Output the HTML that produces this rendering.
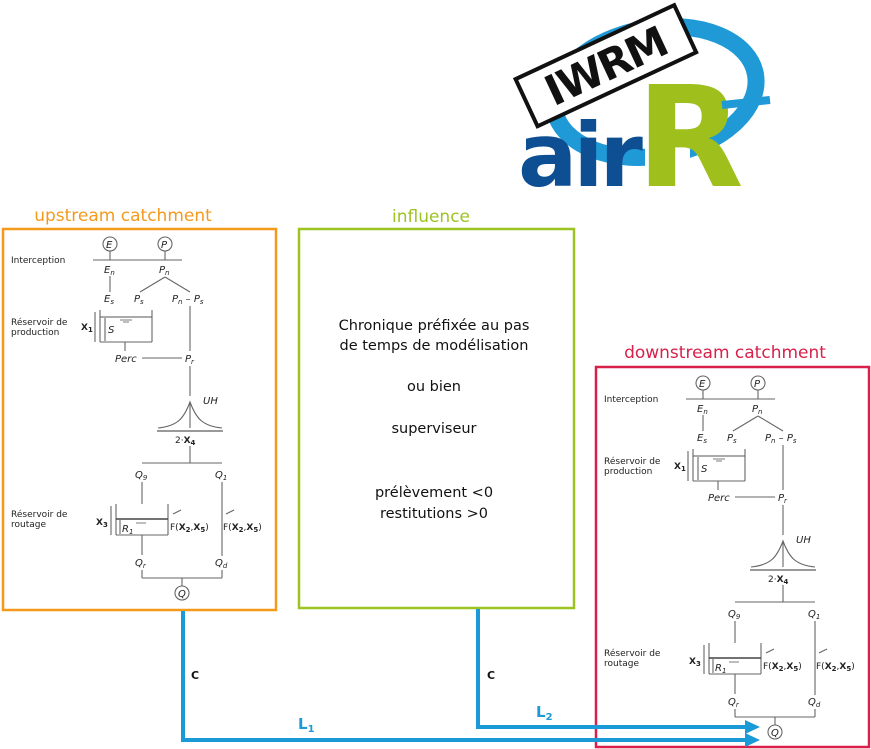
<!DOCTYPE html>
<html><head><meta charset="utf-8"><style>
html,body{margin:0;padding:0;background:#fff;}
svg{display:block;}
text{font-family:"DejaVu Sans","Liberation Sans",sans-serif;}
.it{font-style:italic;font-size:10px;fill:#222;}
.sm{font-size:9px;fill:#222;}
.b{font-weight:bold;}
</style></head><body>
<svg width="871" height="749" viewBox="0 0 871 749" xmlns="http://www.w3.org/2000/svg">
<defs>
<g id="gr">
 <g stroke="#666" stroke-width="1.1" fill="none">
  <line x1="93" y1="260" x2="182" y2="260"/>
  <line x1="110" y1="251" x2="110" y2="260"/>
  <line x1="165" y1="251" x2="165" y2="260"/>
  <line x1="165" y1="277" x2="140" y2="292"/>
  <line x1="165" y1="277" x2="190" y2="292"/>
  <line x1="110" y1="276" x2="110" y2="292"/>
  <line x1="100" y1="310" x2="100" y2="342"/>
  <line x1="152" y1="310" x2="152" y2="342"/>
  <line x1="100" y1="342" x2="152" y2="342"/>
  <line x1="100" y1="317" x2="152" y2="317" stroke="#555"/>
  <line x1="95" y1="312" x2="95" y2="342"/>
  <line x1="105" y1="318" x2="105" y2="341"/>
  <line x1="125" y1="342" x2="125" y2="351"/>
  <line x1="142" y1="358" x2="182" y2="358"/>
  <line x1="190" y1="306" x2="190" y2="351"/>
  <line x1="190" y1="366" x2="190" y2="396"/>
  <path d="M158 428 C178 426 184 418 190 402 C196 418 202 426 222 428"/>
  <line x1="190" y1="402" x2="190" y2="428"/>
  <line x1="157" y1="431" x2="223" y2="431" stroke="#333"/>
  <line x1="190" y1="446" x2="190" y2="463"/>
  <line x1="142" y1="463" x2="222" y2="463"/>
  <line x1="222" y1="482" x2="222" y2="556"/>
  <line x1="142" y1="482" x2="142" y2="504"/>
  <line x1="116" y1="504" x2="116" y2="535"/>
  <line x1="168" y1="504" x2="168" y2="535"/>
  <line x1="116" y1="535" x2="168" y2="535"/>
  <line x1="116" y1="519" x2="168" y2="519" stroke="#444" stroke-width="1.6"/>
  <line x1="111" y1="506" x2="111" y2="535"/>
  <line x1="120" y1="520" x2="120" y2="534"/>
  <line x1="142" y1="535" x2="142" y2="555"/>
  <line x1="142" y1="570" x2="142" y2="578"/>
  <line x1="222" y1="570" x2="222" y2="578"/>
  <line x1="142" y1="578" x2="222" y2="578"/>
  <line x1="182" y1="578" x2="182" y2="586"/>
  <circle cx="110" cy="244" r="7" fill="#fff"/>
  <circle cx="165" cy="244" r="7" fill="#fff"/>
  <circle cx="182" cy="593" r="7" fill="#fff"/>
  <line x1="120" y1="320" x2="132" y2="320" stroke="#888"/>
  <line x1="123" y1="322" x2="129" y2="322" stroke="#888"/>
  <line x1="136" y1="523" x2="146" y2="523" stroke="#888"/>
  <line x1="173" y1="514" x2="181" y2="510"/>
  <line x1="226" y1="514" x2="234" y2="510"/>
 </g>
 <text x="106" y="248" class="it" font-size="9">E</text>
 <text x="161" y="248" class="it" font-size="9">P</text>
 <text x="178" y="597" class="it" font-size="9">Q</text>
 <text x="11" y="263" class="sm">Interception</text>
 <text x="104" y="273" class="it">E<tspan font-size="7" dy="2">n</tspan></text>
 <text x="159" y="273" class="it">P<tspan font-size="7" dy="2">n</tspan></text>
 <text x="104" y="302" class="it">E<tspan font-size="7" dy="2">s</tspan></text>
 <text x="134" y="302" class="it">P<tspan font-size="7" dy="2">s</tspan></text>
 <text x="172" y="302" class="it">P<tspan font-size="7" dy="2">n</tspan><tspan dy="-2"> – P</tspan><tspan font-size="7" dy="2">s</tspan></text>
 <text x="11" y="325" class="sm">Réservoir de</text>
 <text x="11" y="335" class="sm">production</text>
 <text x="81" y="330" class="sm b" font-size="10">X<tspan font-size="7" dy="2">1</tspan></text>
 <text x="108" y="333" class="it">S</text>
 <text x="115" y="362" class="it">Perc</text>
 <text x="185" y="362" class="it">P<tspan font-size="7" dy="2">r</tspan></text>
 <text x="203" y="404" class="it">UH</text>
 <text x="175" y="443" class="sm" font-size="10">2·<tspan class="b">X</tspan><tspan font-size="7" dy="2" class="b">4</tspan></text>
 <text x="135" y="478" class="it">Q<tspan font-size="7" dy="2">9</tspan></text>
 <text x="215" y="478" class="it">Q<tspan font-size="7" dy="2">1</tspan></text>
 <text x="11" y="517" class="sm">Réservoir de</text>
 <text x="11" y="527" class="sm">routage</text>
 <text x="96" y="525" class="sm b" font-size="10">X<tspan font-size="7" dy="2">3</tspan></text>
 <text x="122" y="532" class="it">R<tspan font-size="7" dy="2">1</tspan></text>
 <text x="170" y="530" class="sm" font-size="10">F(<tspan class="b">X</tspan><tspan font-size="7" dy="2" class="b">2</tspan><tspan dy="-2">,</tspan><tspan class="b">X</tspan><tspan font-size="7" dy="2" class="b">5</tspan><tspan dy="-2">)</tspan></text>
 <text x="223" y="530" class="sm" font-size="10">F(<tspan class="b">X</tspan><tspan font-size="7" dy="2" class="b">2</tspan><tspan dy="-2">,</tspan><tspan class="b">X</tspan><tspan font-size="7" dy="2" class="b">5</tspan><tspan dy="-2">)</tspan></text>
 <text x="135" y="566" class="it">Q<tspan font-size="7" dy="2">r</tspan></text>
 <text x="215" y="566" class="it">Q<tspan font-size="7" dy="2">d</tspan></text>
</g>
</defs>

<!-- Logo -->
<ellipse cx="655" cy="92" rx="102" ry="64" fill="none" stroke="#1f9ad6" stroke-width="17" transform="rotate(-10 655 92)"/>
<rect x="645" y="75" width="45" height="112" fill="#fff"/>
<text x="518" y="186" font-family="Liberation Sans" font-weight="bold" font-size="88" fill="#0d4f92" letter-spacing="-4">air</text>
<text x="636" y="186" font-family="Liberation Sans" font-weight="bold" font-size="140" fill="#9fbf1c">R</text>
<path d="M722 105 L770 100" stroke="#1f9ad6" stroke-width="8"/>
<g transform="rotate(-25 605 65)">
 <rect x="518" y="40" width="175" height="52" fill="#fff" stroke="#111" stroke-width="4"/>
 <text x="605" y="81" text-anchor="middle" font-family="Liberation Serif" font-weight="bold" font-size="42" fill="#111" letter-spacing="-2">IWRM</text>
</g>

<!-- Boxes -->
<text x="123" y="221" text-anchor="middle" font-size="17" fill="#f39a1d">upstream catchment</text>
<rect x="3" y="229" width="273" height="381" fill="none" stroke="#f39a1d" stroke-width="2.5"/>
<text x="431" y="222" text-anchor="middle" font-size="17" fill="#9cc321">influence</text>
<rect x="299" y="229" width="275" height="379" fill="none" stroke="#9cc321" stroke-width="2.5"/>
<text x="725" y="358" text-anchor="middle" font-size="17" fill="#d8204b">downstream catchment</text>
<rect x="596" y="367" width="273" height="380" fill="none" stroke="#d8204b" stroke-width="2.5"/>

<g font-size="14.5" fill="#111" text-anchor="middle">
 <text x="434" y="330">Chronique préfixée au pas</text>
 <text x="434" y="350">de temps de modélisation</text>
 <text x="434" y="391">ou bien</text>
 <text x="434" y="433">superviseur</text>
 <text x="434" y="497">prélèvement &lt;0</text>
 <text x="434" y="518">restitutions &gt;0</text>
</g>

<use href="#gr"/>
<use href="#gr" transform="translate(593 139)"/>

<!-- blue connectors -->
<g stroke="#1a9ad6" stroke-width="4" fill="none">
 <polyline points="183,611 183,740 747,740"/>
 <polyline points="478,609 478,727 747,727"/>
</g>
<polygon points="745,733 760,740 745,747" fill="#1a9ad6"/>
<polygon points="745,720 760,727 745,734" fill="#1a9ad6"/>
<text x="191" y="679" font-weight="bold" font-size="11" fill="#111">C</text>
<text x="487" y="679" font-weight="bold" font-size="11" fill="#111">C</text>
<text x="298" y="729" font-weight="bold" font-size="15" fill="#1a9ad6">L<tspan font-size="10" dy="3">1</tspan></text>
<text x="536" y="717" font-weight="bold" font-size="15" fill="#1a9ad6">L<tspan font-size="10" dy="3">2</tspan></text>
</svg>
</body></html>
